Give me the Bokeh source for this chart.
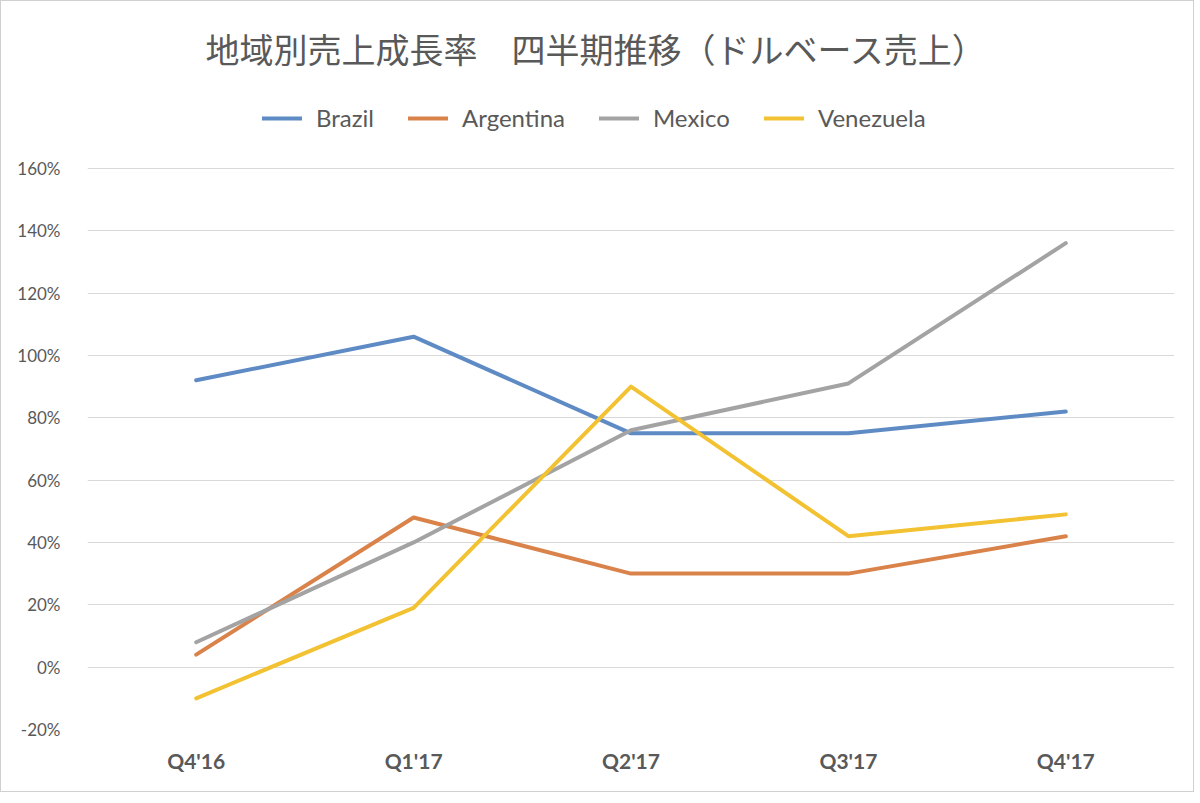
from bokeh.plotting import figure
from bokeh.models import Legend, LegendItem, FixedTicker, PrintfTickFormatter, Range1d
from bokeh.embed import file_html
from bokeh.resources import INLINE

quarters = ["Q4'16", "Q1'17", "Q2'17", "Q3'17", "Q4'17"]
brazil = [92, 106, 75, 75, 82]
argentina = [4, 48, 30, 30, 42]
mexico = [8, 40, 76, 91, 136]
venezuela = [-10, 19, 90, 42, 49]
y_ticks = [-20, 0, 20, 40, 60, 80, 100, 120, 140, 160]

series_names = ["Brazil", "Argentina", "Mexico", "Venezuela"]
series_values = [brazil, argentina, mexico, venezuela]
colors = ["#5f8bc5", "#d9834b", "#a3a3a3", "#f2c232"]

title_text = "地域別売上成長率　四半期推移（ドルベース売上）"

p = figure(x_range=quarters, y_range=Range1d(-20, 184), width=1194, height=792,
           output_backend="svg", toolbar_location=None,
           min_border_left=86, min_border_right=21, min_border_top=91, min_border_bottom=64,
           styles={"border": "1px solid #d0d0d0"})
p.x_range.range_padding = 0
p.title.text = title_text
p.title.align = "left"
p.title.text_font = "Noto Sans CJK JP"
p.title.text_font_size = "34px"
p.title.text_font_style = "normal"
p.title.text_color = "#595959"
p.title.offset = 118
p.title.standoff = 41

items = []
for name, vals, c in zip(series_names, series_values, colors):
    r = p.line(quarters, vals, line_color=c, line_width=4, line_cap="round", line_join="round")
    items.append(LegendItem(label=name, renderers=[r]))

legend = Legend(items=items, orientation="horizontal", location=(175, 597),
                glyph_width=40, glyph_height=20, label_standoff=14, spacing=34,
                label_text_font="Lato", label_text_font_size="24px", label_text_color="#595959",
                border_line_color=None, background_fill_alpha=0, padding=4, margin=0)
p.add_layout(legend, "center")

p.outline_line_color = None
p.xgrid.grid_line_color = None
p.ygrid.grid_line_color = "#d9d9d9"
p.ygrid.grid_line_width = 1.2
p.ygrid.ticker = FixedTicker(ticks=y_ticks)

p.yaxis.ticker = FixedTicker(ticks=y_ticks)
p.yaxis.formatter = PrintfTickFormatter(format="%d%%")
for ax in (p.xaxis[0], p.yaxis[0]):
    ax.axis_line_color = None
    ax.major_tick_line_color = None
    ax.minor_tick_line_color = None
    ax.major_label_text_color = "#595959"
    ax.major_label_text_font = "Lato"
p.yaxis.major_label_text_font_size = "17px"
p.yaxis.major_label_standoff = 21
p.xaxis.major_label_text_font_size = "21px"
p.xaxis.major_label_text_font_style = "bold"
p.xaxis.major_label_standoff = 12

open("out.html", "w").write(file_html(p, INLINE))
